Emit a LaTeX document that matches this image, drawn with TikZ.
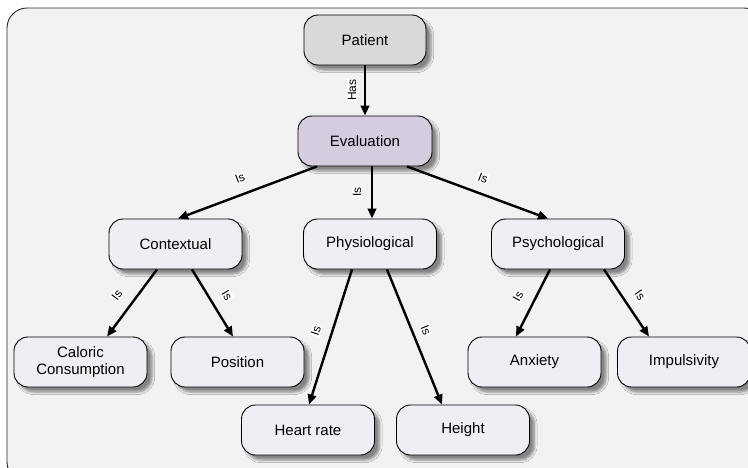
\documentclass[tikz,border=0pt]{standalone}
\usepackage{fontspec}
\setmainfont{Liberation Sans}
\usetikzlibrary{arrows.meta,shadows.blur}

\definecolor{pagebg}{HTML}{F2F2F2}
\definecolor{patientfill}{HTML}{D9D9D9}
\definecolor{evalfill}{HTML}{D5CCE0}
\definecolor{boxfill}{HTML}{F0EEF4}

\tikzset{
  concept/.style={draw=black, line width=0.9pt, rounded corners=14pt,
    fill=boxfill, minimum width=133pt, minimum height=50pt, align=center,
    font=\fontsize{15}{17.5}\selectfont, inner sep=2pt,
    blur shadow={shadow xshift=5pt, shadow yshift=-5pt,
      shadow blur steps=6, shadow blur radius=2.5pt, shadow opacity=45}},
  link/.style={line width=2.4pt, -{Triangle[length=10pt,width=8.5pt]}},
  linklabel/.style={fill=white, inner sep=0.8pt,
    font=\fontsize{12}{13}\selectfont},
}

\begin{document}
\begin{tikzpicture}[x=1pt, y=-1pt]
  \useasboundingbox (0,0) rectangle (748,467);
  \clip (0,0) rectangle (748,467);

  % panel behind the map
  \draw[draw=black!85, line width=0.9pt, fill=pagebg, rounded corners=20pt]
    (7,8) rectangle (764,482);

  % concepts
  \node[concept, fill=patientfill, minimum width=122pt] (pat) at (365,40) {Patient};
  \node[concept, fill=evalfill, minimum width=134pt] (ev) at (365,141) {Evaluation};
  \node[concept] (ctx) at (175.5,244) {Contextual};
  \node[concept] (phy) at (370,244) {Physiological};
  \node[concept] (psy) at (558,244) {Psychological};
  \node[concept] (cal) at (80.5,362) {Caloric\\Consumption};
  \node[concept] (pos) at (237.5,362) {Position};
  \node[concept] (hr)  at (308,430) {Heart rate};
  \node[concept] (hgt) at (463,430) {Height};
  \node[concept] (anx) at (534.5,362) {Anxiety};
  \node[concept] (imp) at (684,362) {Impulsivity};

  % links
  \draw[link] (pat.south) -- (ev.north);
  \draw[link] ([xshift=-48pt]ev.south) -- ([xshift=2.5pt]ctx.north);
  \draw[link] ([xshift=7pt]ev.south) -- ([xshift=2pt]phy.north);
  \draw[link] ([xshift=42pt]ev.south) -- ([xshift=-10pt]psy.north);
  \draw[link] ([xshift=-18.5pt]ctx.south) -- ([xshift=26.5pt]cal.north);
  \draw[link] ([xshift=16.5pt]ctx.south) -- ([xshift=-4.5pt]pos.north);
  \draw[link] ([xshift=-18pt]phy.south) -- ([xshift=1pt]hr.north);
  \draw[link] ([xshift=17pt]phy.south) -- ([xshift=-21pt]hgt.north);
  \draw[link] ([xshift=-8pt]psy.south) -- ([xshift=-18.5pt]anx.north);
  \draw[link] ([xshift=46pt]psy.south) -- ([xshift=-35pt]imp.north);

  % link phrases
  \node[linklabel, rotate=90]    (lhas) at (352,90)  {Has};
  \node[linklabel, rotate=20.9]  (lctx) at (240,178) {Is};
  \node[linklabel, rotate=90]    (lphy) at (357,192) {Is};
  \node[linklabel, rotate=-20.6] (lpsy) at (483,178) {Is};
  \node[linklabel, rotate=52.9]  (lcal) at (117,295) {Is};
  \node[linklabel, rotate=-58.2] (lpos) at (227,295) {Is};
  \node[linklabel, rotate=72.2]  (lhr)  at (316,331) {Is};
  \node[linklabel, rotate=-67.7] (lhgt) at (426,330) {Is};
  \node[linklabel, rotate=62.7]  (lanx) at (518,296) {Is};
  \node[linklabel, rotate=-55.7] (limp) at (640,295) {Is};
\end{tikzpicture}
\end{document}
